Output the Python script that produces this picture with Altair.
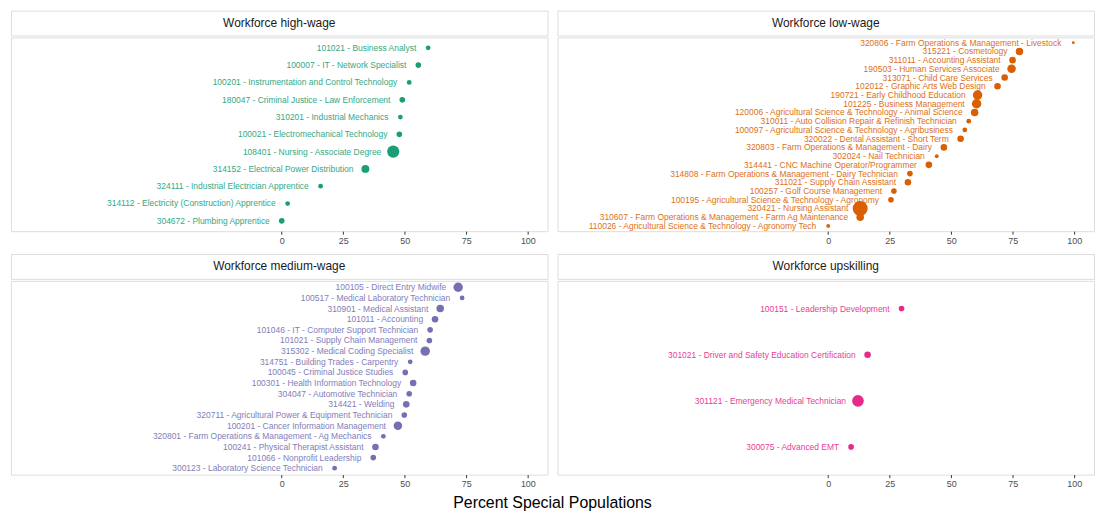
import altair as alt
import pandas as pd

# ---------------- data ----------------
high_labels = [
    "101021 - Business Analyst",
    "100007 - IT - Network Specialist",
    "100201 - Instrumentation and Control Technology",
    "180047 - Criminal Justice - Law Enforcement",
    "310201 - Industrial Mechanics",
    "100021 - Electromechanical Technology",
    "108401 - Nursing - Associate Degree",
    "314152 - Electrical Power Distribution",
    "324111 - Industrial Electrician Apprentice",
    "314112 - Electricity (Construction) Apprentice",
    "304672 - Plumbing Apprentice",
]
high_values = [59.5, 55.5, 51.8, 49.0, 48.2, 47.8, 45.3, 34.0, 15.8, 2.4, 0.0]
high_n = [40, 56, 40, 56, 40, 56, 260, 110, 40, 40, 56]

low_labels = [
    "320806 - Farm Operations & Management - Livestock",
    "315221 - Cosmetology",
    "311011 - Accounting Assistant",
    "190503 - Human Services Associate",
    "313071 - Child Care Services",
    "102012 - Graphic Arts Web Design",
    "190721 - Early Childhood Education",
    "101225 - Business Management",
    "120006 - Agricultural Science & Technology - Animal Science",
    "310011 - Auto Collision Repair & Refinish Technician",
    "100097 - Agricultural Science & Technology - Agribusiness",
    "320022 - Dental Assistant - Short Term",
    "320803 - Farm Operations & Management - Dairy",
    "302024 - Nail Technician",
    "314441 - CNC Machine Operator/Programmer",
    "314808 - Farm Operations & Management - Dairy Technician",
    "311021 - Supply Chain Assistant",
    "100257 - Golf Course Management",
    "100195 - Agricultural Science & Technology - Agronomy",
    "320421 - Nursing Assistant",
    "310607 - Farm Operations & Management - Farm Ag Maintenance",
    "110026 - Agricultural Science & Technology - Agronomy Tech",
]
low_values = [99.6, 77.7, 74.9, 74.5, 71.7, 68.8, 60.7, 60.3, 59.5, 57.1, 55.5,
              53.8, 47.0, 44.1, 40.9, 33.2, 32.4, 26.7, 25.5, 13.0, 13.0, 0.0]
low_n = [14, 100, 76, 127, 76, 76, 157, 157, 100, 40, 40,
         76, 76, 25, 76, 56, 76, 56, 56, 400, 100, 25]

med_labels = [
    "100105 - Direct Entry Midwife",
    "100517 - Medical Laboratory Technician",
    "310901 - Medical Assistant",
    "101011 - Accounting",
    "101046 - IT - Computer Support Technician",
    "101021 - Supply Chain Management",
    "315302 - Medical Coding Specialist",
    "314751 - Building Trades - Carpentry",
    "100045 - Criminal Justice Studies",
    "100301 - Health Information Technology",
    "304047 - Automotive Technician",
    "314421 - Welding",
    "320711 - Agricultural Power & Equipment Technician",
    "100201 - Cancer Information Management",
    "320801 - Farm Operations & Management - Ag Mechanics",
    "100241 - Physical Therapist Assistant",
    "101066 - Nonprofit Leadership",
    "300123 - Laboratory Science Technician",
]
med_values = [71.7, 73.3, 64.4, 62.3, 60.3, 60.0, 58.3, 52.2, 50.2, 53.4,
              51.8, 50.6, 49.8, 47.2, 41.3, 38.1, 37.2, 21.5]
med_n = [157, 40, 100, 76, 56, 56, 157, 40, 56, 76, 56, 76, 56, 127, 40, 76, 56, 40]

up_labels = [
    "100151 - Leadership Development",
    "301021 - Driver and Safety Education Certification",
    "301121 - Emergency Medical Technician",
    "300075 - Advanced EMT",
]
up_values = [29.8, 16.0, 12.1, 9.3]
up_n = [56, 76, 240, 56]

x_ticks = [0, 25, 50, 75, 100]

# ---------------- layout ----------------
W = 540
STRIP = 25
H = 195
FONT = "Liberation Sans"


def panel(title, labels, values, n, color):
    df = pd.DataFrame({"label": labels, "value": values, "n": n,
                       "order": list(range(len(labels)))})
    base = alt.Chart(df).encode(
        y=alt.Y("label:N",
                sort=alt.EncodingSortField(field="order", op="min", order="ascending"),
                axis=None,
                scale=alt.Scale(type="point", padding=0.6)),
        x=alt.X("value:Q",
                scale=alt.Scale(domain=[-110, 108], nice=False, zero=False),
                axis=alt.Axis(values=x_ticks, title=None, grid=False, domain=False,
                              ticks=True, tickSize=3, tickColor="#333333",
                              labelColor="#4d4d4d", labelFontSize=9, labelPadding=2,
                              labelFont=FONT)),
    )
    pts = base.mark_circle(color=color, opacity=1).encode(
        size=alt.Size("n:Q", scale=alt.Scale(domain=[0, 400], range=[0, 230]), legend=None)
    )
    txt = base.mark_text(align="right", baseline="middle", dx=-12, fontSize=8.5,
                         color=color, opacity=0.9, font=FONT).encode(text="label:N")
    main = alt.layer(txt, pts).properties(width=W, height=H)
    strip = alt.Chart(pd.DataFrame({"t": [title]})).mark_text(
        fontSize=12, color="#1a1a1a", font=FONT
    ).encode(text="t:N", x=alt.value(W / 2), y=alt.value(STRIP / 2)).properties(
        width=W, height=STRIP)
    return alt.vconcat(strip, main, spacing=0)


p1 = panel("Workforce high-wage", high_labels, high_values, high_n, "#1B9E77")
p2 = panel("Workforce low-wage", low_labels, low_values, low_n, "#D95F02")
p3 = panel("Workforce medium-wage", med_labels, med_values, med_n, "#7570B3")
p4 = panel("Workforce upskilling", up_labels, up_values, up_n, "#E7298A")

chart = alt.vconcat(
    alt.hconcat(p1, p2, spacing=8),
    alt.hconcat(p3, p4, spacing=8),
    spacing=7,
).properties(
    title=alt.TitleParams("Percent Special Populations", orient="bottom",
                          anchor="middle", fontSize=16, font=FONT,
                          fontWeight="normal", color="black", offset=6),
    padding={"left": 2, "top": 0, "right": 0, "bottom": 0},
).configure_view(stroke="#333333", strokeWidth=1).configure(font=FONT)

chart.save("out.html", embed_options={"renderer": "svg", "actions": False})
